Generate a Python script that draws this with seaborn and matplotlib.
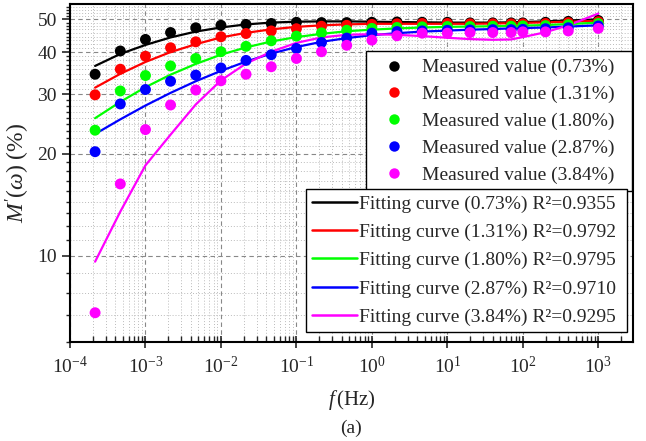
import numpy as np
import pandas as pd
import matplotlib
matplotlib.use("Agg")
import matplotlib.pyplot as plt
import seaborn as sns
from matplotlib.lines import Line2D
from matplotlib.ticker import FixedLocator, NullFormatter, LogLocator, FixedFormatter

# ---------------- data ----------------
freq = [2.15e-4, 4.64e-4, 1e-3, 2.15e-3, 4.64e-3, 1e-2, 2.15e-2, 4.64e-2,
        0.1, 0.215, 0.464, 1, 2.15, 4.64, 10, 20, 40, 70, 100, 200, 400, 1000]

contents = ["0.73%", "1.31%", "1.80%", "2.87%", "3.84%"]
r2_values = ["0.9355", "0.9792", "0.9795", "0.9710", "0.9295"]
colors = ["#000000", "#FF0000", "#00FF00", "#0000FF", "#FF00FF"]

meas_073 = [34.4, 40.3, 43.6, 45.7, 47.2, 48.0, 48.3, 48.6, 49.0, 48.9, 48.9,
            49.0, 49.1, 49.0, 49.0, 48.8, 48.8, 48.8, 48.8, 49.0, 49.3, 49.6]
meas_131 = [29.9, 35.6, 38.9, 41.2, 42.9, 44.4, 45.4, 46.2, 46.9, 47.7, 48.0,
            48.3, 48.5, 48.6, 48.6, 48.5, 48.5, 48.5, 48.5, 48.6, 48.9, 49.2]
meas_180 = [23.5, 30.7, 34.1, 36.4, 38.3, 40.1, 41.6, 43.2, 44.6, 45.6, 46.4,
            47.0, 47.3, 47.5, 47.6, 47.6, 47.7, 47.7, 47.8, 47.9, 48.2, 48.6]
meas_287 = [20.3, 28.1, 31.0, 32.8, 34.2, 35.9, 37.8, 39.3, 41.0, 42.7, 44.0,
            45.5, 46.0, 46.2, 46.4, 46.5, 46.6, 46.6, 46.7, 46.9, 47.2, 47.8]
meas_384 = [6.78, 16.3, 23.6, 27.9, 30.9, 32.9, 34.4, 36.2, 38.3, 40.1, 41.9,
            43.4, 44.7, 45.5, 45.5, 45.7, 45.7, 45.7, 45.9, 45.9, 46.2, 47.0]

fit_073 = [36.4, 39.5, 42.0, 44.2, 46.0, 47.3, 48.3, 48.9, 49.2, 49.3, 49.3,
           49.2, 49.1, 49.0, 48.9, 48.9, 48.9, 49.0, 49.1, 49.3, 49.6, 50.0]
fit_131 = [31.4, 34.5, 37.4, 40.0, 42.2, 44.2, 45.6, 46.7, 47.5, 48.0, 48.3,
           48.5, 48.5, 48.5, 48.5, 48.5, 48.6, 48.7, 48.8, 49.0, 49.2, 49.5]
fit_180 = [25.5, 28.5, 31.5, 34.3, 36.9, 39.3, 41.3, 43.0, 44.3, 45.3, 46.1,
           46.6, 47.0, 47.3, 47.5, 47.6, 47.7, 47.8, 47.9, 48.1, 48.4, 48.9]
fit_287 = [22.9, 25.3, 27.8, 30.3, 32.8, 35.2, 37.5, 39.6, 41.4, 42.9, 44.0,
           44.9, 45.5, 46.0, 46.3, 46.6, 46.8, 47.0, 47.1, 47.3, 47.6, 48.0]
fit_384 = [9.6, 13.5, 18.5, 22.8, 28.0, 33.0, 37.0, 40.1, 42.6, 44.2, 45.0,
           45.2, 45.0, 44.6, 44.1, 43.7, 43.5, 43.6, 44.3, 45.8, 48.0, 52.0]

y_ticks = [10, 20, 30, 40, 50]

measured = [meas_073, meas_131, meas_180, meas_287, meas_384]
fitted = [fit_073, fit_131, fit_180, fit_287, fit_384]

rows = []
for c, m, f in zip(contents, measured, fitted):
    for fr, mv, fv in zip(freq, m, f):
        rows.append({"freq": fr, "content": c, "measured": mv, "fit": fv})
df = pd.DataFrame(rows)

# ---------------- style ----------------
sns.set_style("ticks")
plt.rcParams["font.family"] = ["Liberation Serif", "DejaVu Serif"]
plt.rcParams["mathtext.fontset"] = "custom"
plt.rcParams["mathtext.rm"] = "Liberation Serif"
plt.rcParams["mathtext.it"] = "Liberation Serif:italic"
plt.rcParams["mathtext.bf"] = "Liberation Serif:bold"

W, H = 646, 441
fig = plt.figure(figsize=(W / 100, H / 100), dpi=100)
x0, x1, yt, yb = 70, 633, 4, 342
ax = fig.add_axes([x0 / W, 1 - yb / H, (x1 - x0) / W, (yb - yt) / H])

palette = dict(zip(contents, colors))

sns.lineplot(data=df, x="freq", y="fit", hue="content", palette=palette,
             linewidth=1.6, legend=False, ax=ax, sort=True, estimator=None)
sns.scatterplot(data=df, x="freq", y="measured", hue="content", palette=palette,
                s=62, linewidth=0, legend=False, ax=ax, zorder=3)

ax.set_xscale("log")
ax.set_yscale("log")
ax.set_xlim(1e-4, 10 ** 3.46)
ax.set_ylim(50 / 9, 55.5)

ax.yaxis.set_major_locator(FixedLocator(y_ticks))
ax.yaxis.set_major_formatter(FixedFormatter([str(v) for v in y_ticks]))
minor_y = [v for v in np.arange(1, 51) * (10 / 9)
           if 5.5 < v < 55.6 and all(abs(v - t) > 0.1 for t in y_ticks)]
ax.yaxis.set_minor_locator(FixedLocator(minor_y))
ax.yaxis.set_minor_formatter(NullFormatter())

ax.xaxis.set_major_locator(FixedLocator([10.0 ** k for k in range(-4, 4)]))
ax.xaxis.set_minor_locator(LogLocator(base=10, subs=np.arange(2, 10), numticks=20))
ax.xaxis.set_minor_formatter(NullFormatter())

ax.grid(True, which="major", linestyle=(0, (4, 3)), color="#888888", linewidth=0.8)
ax.grid(True, which="minor", linestyle=(0, (1, 2)), color="#BBBBBB", linewidth=0.7)
ax.set_axisbelow(True)

for sp in ax.spines.values():
    sp.set_linewidth(1.5)
    sp.set_color("black")

ax.tick_params(axis="x", which="major", direction="inout", length=8, width=1.2,
               labelsize=14, pad=6)
ax.tick_params(axis="x", which="minor", direction="in", length=4, width=1.0)
ax.tick_params(axis="y", which="major", direction="out", length=6, width=1.2,
               labelsize=14)
ax.tick_params(axis="y", which="minor", direction="out", length=3, width=1.0)

ax.set_xlabel(r"$f\,$(Hz)", fontsize=15, labelpad=8)
ax.set_ylabel(r"$M'(\omega)$ (%)", fontsize=17, labelpad=4)

fig.text(351 / W, 1 - 428 / H, "(a)", ha="center", va="center", fontsize=14)

# ---------------- legends ----------------
meas_handles = [Line2D([], [], linestyle="none", marker="o", markersize=7.5,
                       markerfacecolor=c, markeredgewidth=0, color=c) for c in colors]
meas_labels = [f"Measured value ({c})  " for c in contents]
leg1 = ax.legend(meas_handles, meas_labels, loc="upper right",
                 bbox_to_anchor=(632 / W, 1 - 51 / H), bbox_transform=fig.transFigure,
                 fontsize=14, frameon=True, fancybox=False, framealpha=1,
                 edgecolor="black", handlelength=2.0, handletextpad=0.45,
                 labelspacing=0.47, borderpad=0.4, borderaxespad=0)
leg1.get_frame().set_linewidth(1.0)
ax.add_artist(leg1)

fit_handles = [Line2D([], [], color=c, linewidth=1.8) for c in colors]
fit_labels = [f"Fitting curve ({c}) R\u00b2={r} " for c, r in zip(contents, r2_values)]
leg2 = ax.legend(fit_handles, fit_labels, loc="upper right",
                 bbox_to_anchor=(627 / W, 1 - 189 / H), bbox_transform=fig.transFigure,
                 fontsize=14, frameon=True, fancybox=False, framealpha=1,
                 edgecolor="black", handlelength=2.32, handletextpad=0.12,
                 labelspacing=0.55, borderpad=0.3, borderaxespad=0)
leg2.get_frame().set_linewidth(1.0)

fig.savefig("out.png", dpi=100)
